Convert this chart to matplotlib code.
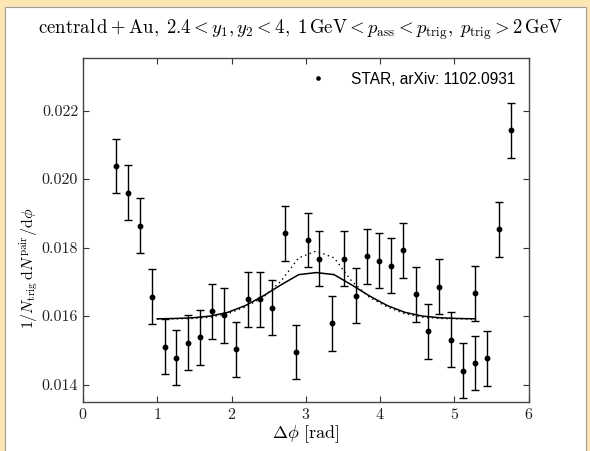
import matplotlib
matplotlib.use("Agg")
import matplotlib.pyplot as plt
from matplotlib.lines import Line2D
from matplotlib.patches import Rectangle

plt.rcParams['font.family'] = 'serif'
plt.rcParams['font.serif'] = ['cmr10']
plt.rcParams['mathtext.fontset'] = 'cm'
plt.rcParams['axes.unicode_minus'] = False
plt.rcParams['axes.formatter.use_mathtext'] = True

# STAR points
dphi = [0.444, 0.602, 0.767, 0.933, 1.100, 1.252, 1.417, 1.575, 1.740, 1.902,
        2.055, 2.225, 2.382, 2.544, 2.715, 2.871, 3.024, 3.183, 3.347, 3.509,
        3.674, 3.826, 3.988, 4.145, 4.307, 4.478, 4.639, 4.795, 4.953, 5.110,
        5.276, 5.276, 5.441, 5.599, 5.764]
corr = [0.02038, 0.01960, 0.01864, 0.01656, 0.01511, 0.01478, 0.01522, 0.01538,
        0.01614, 0.01602, 0.01503, 0.01649, 0.01649, 0.01624, 0.01842, 0.01495,
        0.01822, 0.01768, 0.01579, 0.01767, 0.01659, 0.01774, 0.01762, 0.01747,
        0.01792, 0.01663, 0.01555, 0.01686, 0.01531, 0.01441, 0.01463, 0.01666,
        0.01477, 0.01853, 0.02142]
corr_err = [0.0008] * len(dphi)

# model curves
phi_model = [1.000, 1.238, 1.476, 1.714, 1.951, 2.189, 2.427, 2.665, 2.904, 3.142,
             3.380, 3.617, 3.855, 4.093, 4.331, 4.569, 4.806, 5.044, 5.282]
solid_model = [0.01592, 0.01593, 0.01595, 0.01600, 0.01611, 0.01631, 0.01659,
               0.01691, 0.01721, 0.01727, 0.01721, 0.01691, 0.01659, 0.01631,
               0.01611, 0.01600, 0.01595, 0.01593, 0.01592]
dotted_model = [0.01591, 0.01592, 0.01593, 0.01597, 0.01607, 0.01627, 0.01655,
                0.01702, 0.01770, 0.01790, 0.01770, 0.01702, 0.01655, 0.01627,
                0.01607, 0.01597, 0.01593, 0.01592, 0.01591]

fig = plt.figure(figsize=(5.9, 4.51), dpi=100)
fig.patch.set_facecolor('#fde6b2')
# white panel behind everything
fig.patches.append(Rectangle((5 / 590, -0.01), 581 / 590, 1 - 7 / 451 + 0.01,
                             transform=fig.transFigure, facecolor='white',
                             edgecolor='#9a9a9a', linewidth=0.8, zorder=-5))

ax = fig.add_axes([0.1407, 0.1093, 0.7554, 0.761])
ax.set_zorder(2)
ax.plot(phi_model, solid_model, color='black', lw=1.1)
ax.plot(phi_model, dotted_model, color='black', lw=1.0, ls=(0, (1, 2.5)))
ax.errorbar(dphi, corr, yerr=corr_err, fmt='o', color='black', ms=3.2,
            elinewidth=1.0, capsize=3, capthick=1.0)

ax.set_xlim(0, 6)
ax.set_ylim(0.0135, 0.02352)
ax.set_xticks([0, 1, 2, 3, 4, 5, 6])
ax.set_yticks([0.014, 0.016, 0.018, 0.020, 0.022])
ax.set_yticklabels(['0.014', '0.016', '0.018', '0.020', '0.022'])
ax.tick_params(direction='in', top=True, right=True, length=4, width=0.8,
               labelsize=11.5, colors='#333333', labelcolor='#222222')
for s in ax.spines.values():
    s.set_color('#444444')
    s.set_linewidth(1.0)

ax.set_xlabel(r'$\Delta\phi$ [rad]', fontsize=13, labelpad=1)
fig.text(29 / 590, 1 - 268 / 451, r'$1/N_{\rm trig}\,{\rm d}N^{\rm pair}/{\rm d}\phi$',
         rotation=90, ha='center', va='center', rotation_mode='anchor', fontsize=11.5)

proxy = Line2D([], [], marker='o', ms=2.3, color='black', ls='none')
leg = ax.legend([proxy], ['STAR, arXiv: 1102.0931'], loc='upper right',
                frameon=False, prop={'family': 'Liberation Sans', 'size': 11.2},
                handlelength=1.2, handletextpad=1.5, borderaxespad=0.45)

fig.text(0.509, 0.933,
         r'${\rm central\,d+Au},\;2.4<y_1,y_2<4,\;1\,{\rm GeV}<p_{\rm ass}<p_{\rm trig},\;p_{\rm trig}>2\,{\rm GeV}$',
         ha='center', va='center', fontsize=13.5)

fig.savefig('out.png', dpi=100, facecolor=fig.get_facecolor())
